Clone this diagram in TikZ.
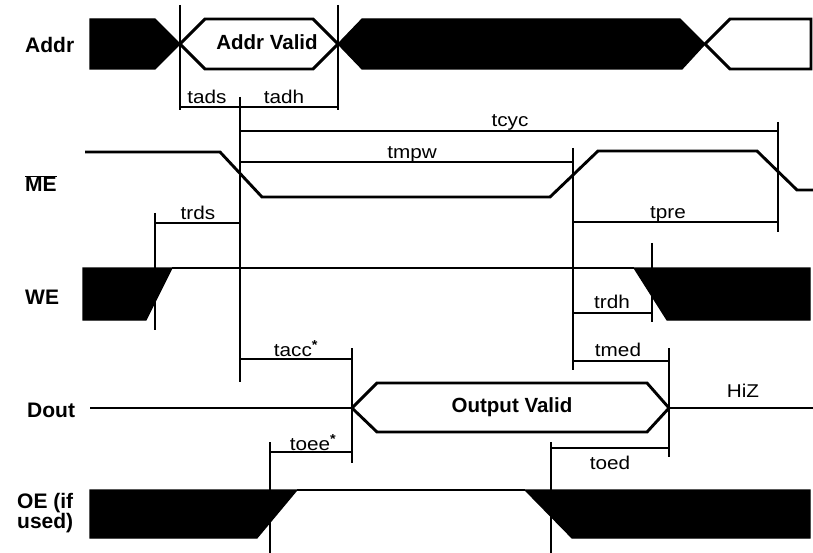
\documentclass[tikz,border=0pt]{standalone}
\usepackage{fontspec}
\setmainfont{Liberation Sans}
\newfontfamily\lblfont{Liberation Sans}[FakeStretch=1.12]
\begin{document}
\begin{tikzpicture}[x=1pt,y=-1pt,
  sig/.style={line width=2.9pt, line join=miter},
  blk/.style={fill=black, draw=black, line width=1.2pt, line join=miter},
  vline/.style={line width=2.1pt},
  dim/.style={line width=1.9pt},
  tlab/.style={anchor=base, inner sep=0pt, font=\lblfont\fontsize{18.5}{21}\selectfont},
  slab/.style={anchor=base west, inner sep=0pt, font=\bfseries\fontsize{21}{23}\selectfont},
  vlab/.style={anchor=base, inner sep=0pt, font=\bfseries\fontsize{20.5}{22}\selectfont}]
\useasboundingbox (0,0) rectangle (813,553);

% ---- signal names
\node[slab] (nAddr) at (25,53) {Addr};
\node[slab] (nME) at (25,192) {$\overline{\mbox{\bfseries\fontsize{21}{23}\selectfont ME}}$};
\node[slab] (nWE) at (25,304) {WE};
\node[slab] (nDout) at (27,417) {Dout};
\node[slab] (nOE) at (17,508) {OE (if};
\node[slab] (nUsed) at (17,528) {used)};

% ---- Addr
\fill[blk] (90,19) -- (155,19) -- (180,44) -- (155,69) -- (90,69) -- cycle;
\draw[sig] (180,44) -- (205,19) -- (313,19) -- (338,44) -- (313,69) -- (205,69) -- cycle;
\node[vlab] (addrvalid) at (267,50) {Addr Valid};
\fill[blk] (338,44) -- (362,19) -- (680,19) -- (705,44) -- (682,69) -- (362,69) -- cycle;
\draw[sig] (705,44) -- (730,19) -- (811,19) -- (811,69) -- (730,69) -- cycle;

% ---- ME
\draw[sig] (85,152) -- (220,152) -- (262,197) -- (550,197) -- (598,151) -- (757,151) -- (797,190) -- (813,190);

% ---- WE
\fill[blk] (83,268) -- (172,268) -- (146,320) -- (83,320) -- cycle;
\draw[sig] (172,268) -- (634,268);
\fill[blk] (634,268) -- (810,268) -- (810,320) -- (667,320) -- cycle;

% ---- Dout
\draw[sig] (90,408) -- (352,408);
\draw[sig] (352,408) -- (377,383) -- (647,383) -- (669,408) -- (647,432) -- (377,432) -- cycle;
\draw[sig] (669,408) -- (813,408);
\node[vlab] (outvalid) at (512,412) {Output Valid};
\node[tlab] (hiz) at (743,397) {HiZ};

% ---- OE
\fill[blk] (90,490) -- (297,490) -- (257,538) -- (90,538) -- cycle;
\draw[sig] (297,490) -- (525,490);
\fill[blk] (525,490) -- (810,490) -- (810,538) -- (572,538) -- cycle;

% ---- vertical reference lines
\coordinate (v1t) at (180,5);   \coordinate (v1b) at (180,110);
\coordinate (v2t) at (338,5);   \coordinate (v2b) at (338,110);
\coordinate (v3t) at (240,97);  \coordinate (v3b) at (240,382);
\coordinate (v4t) at (155,213); \coordinate (v4b) at (155,330);
\coordinate (v5t) at (573,148); \coordinate (v5b) at (573,370);
\coordinate (v6t) at (778,122); \coordinate (v6b) at (778,232);
\coordinate (v7t) at (652,243); \coordinate (v7b) at (652,322);
\coordinate (v8t) at (352,348); \coordinate (v8b) at (352,463);
\coordinate (v9t) at (669,348); \coordinate (v9b) at (669,457);
\coordinate (v10t) at (270,442); \coordinate (v10b) at (270,553);
\coordinate (v11t) at (551,442); \coordinate (v11b) at (551,553);
\foreach \i in {1,...,11} \draw[vline] (v\i t) -- (v\i b);

% ---- timing dimensions
\draw[dim] (180,107) -- (338,107);
\node[tlab] (tads) at (207,104) {tads};
\node[tlab] (tadh) at (284,104) {tadh};

\draw[dim] (240,131) -- (778,131);
\node[tlab] (tcyc) at (510,127) {tcyc};

\draw[dim] (240,162) -- (573,162);
\node[tlab] (tmpw) at (412,159) {tmpw};

\draw[dim] (155,223) -- (240,223);
\node[tlab] (trds) at (198,220) {trds};

\draw[dim] (573,222) -- (778,222);
\node[tlab] (tpre) at (668,219) {tpre};

\draw[dim] (573,313) -- (652,313);
\node[tlab] (trdh) at (612,308) {trdh};

\draw[dim] (240,359) -- (352,359);
\node[tlab] (tacc) at (296,356) {tacc\textsuperscript{\bfseries *}};

\draw[dim] (573,361) -- (669,361);
\node[tlab] (tmed) at (618,356) {tmed};

\draw[dim] (270,452) -- (352,452);
\node[tlab] (toee) at (313,450) {toee\textsuperscript{\bfseries *}};

\draw[dim] (551,448) -- (669,448);
\node[tlab] (toed) at (610,469) {toed};
\end{tikzpicture}
\end{document}
